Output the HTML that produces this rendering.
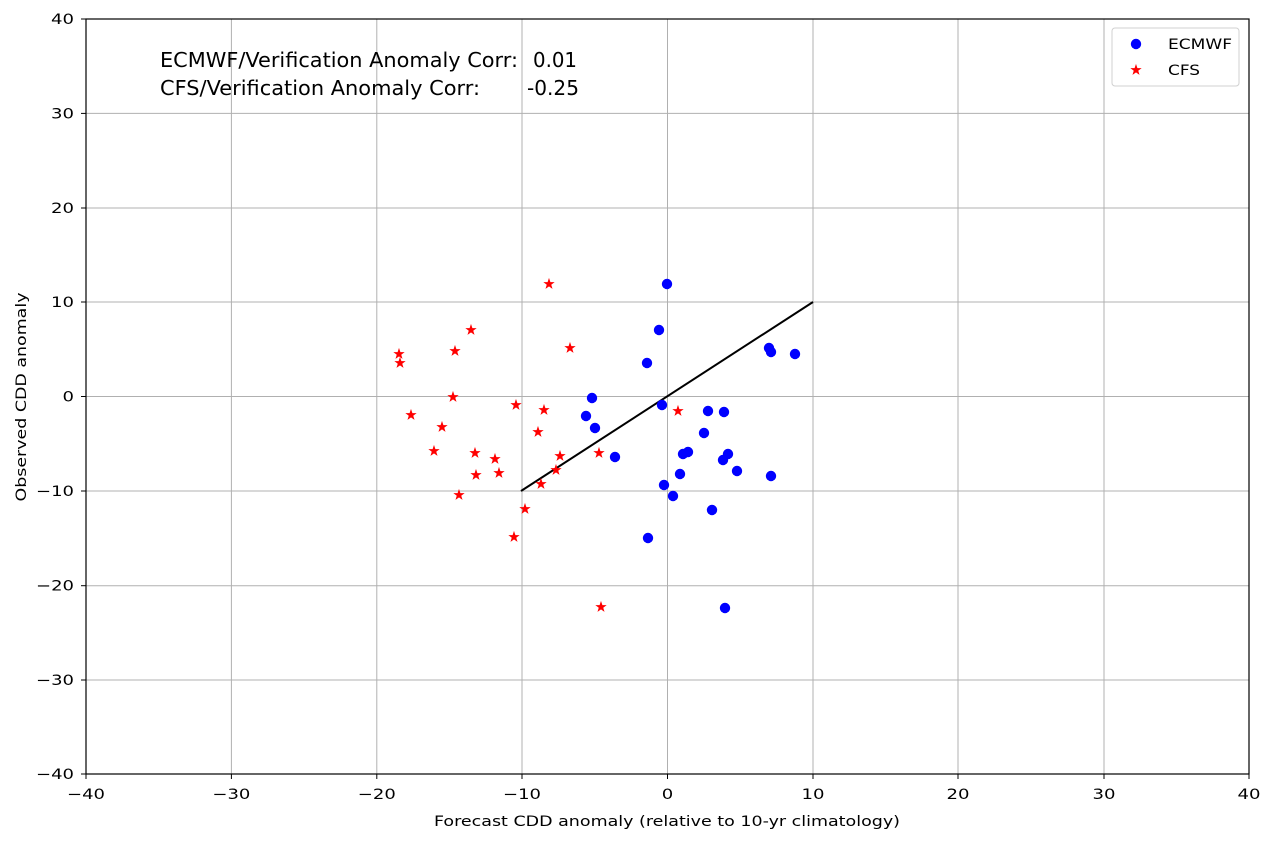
<!DOCTYPE html>
<html><head><meta charset="utf-8"><style>
html,body{margin:0;padding:0;background:#fff}
svg text{font-family:"DejaVu Sans","Liberation Sans",sans-serif}
</style></head><body>
<svg width="1272" height="842" xmlns="http://www.w3.org/2000/svg">
<defs>
<polygon id="st" points="0,-4.8 1.1,-1.5 4.5,-1.5 1.8,0.6 2.8,3.9 0,1.9 -2.8,3.9 -1.8,0.6 -4.5,-1.5 -1.1,-1.5" fill="#f00" stroke="#f00" stroke-width="0.8"/>
</defs>
<rect width="1272" height="842" fill="#fff"/>
<g stroke="#b0b0b0" stroke-width="1">
<line x1="231.4" y1="19" x2="231.4" y2="774"/><line x1="376.8" y1="19" x2="376.8" y2="774"/>
<line x1="522" y1="19" x2="522" y2="774"/><line x1="667.5" y1="19" x2="667.5" y2="774"/>
<line x1="813" y1="19" x2="813" y2="774"/><line x1="958" y1="19" x2="958" y2="774"/>
<line x1="1104" y1="19" x2="1104" y2="774"/>
<line x1="86" y1="113.4" x2="1249" y2="113.4"/><line x1="86" y1="208" x2="1249" y2="208"/>
<line x1="86" y1="302" x2="1249" y2="302"/><line x1="86" y1="396.5" x2="1249" y2="396.5"/>
<line x1="86" y1="491" x2="1249" y2="491"/><line x1="86" y1="585.7" x2="1249" y2="585.7"/>
<line x1="86" y1="680" x2="1249" y2="680"/>
</g>
<rect x="86" y="19" width="1163" height="755" fill="none" stroke="#000" stroke-width="1.2"/>
<g stroke="#000">
<line x1="86" y1="774" x2="86" y2="779"/><line x1="231.4" y1="774" x2="231.4" y2="779"/><line x1="376.8" y1="774" x2="376.8" y2="779"/><line x1="522" y1="774" x2="522" y2="779"/><line x1="667.5" y1="774" x2="667.5" y2="779"/><line x1="813" y1="774" x2="813" y2="779"/><line x1="958" y1="774" x2="958" y2="779"/><line x1="1104" y1="774" x2="1104" y2="779"/><line x1="1249" y1="774" x2="1249" y2="779"/>
<line x1="81" y1="19" x2="86" y2="19"/><line x1="81" y1="113.4" x2="86" y2="113.4"/><line x1="81" y1="208" x2="86" y2="208"/><line x1="81" y1="302" x2="86" y2="302"/><line x1="81" y1="396.5" x2="86" y2="396.5"/><line x1="81" y1="491" x2="86" y2="491"/><line x1="81" y1="585.7" x2="86" y2="585.7"/><line x1="81" y1="680" x2="86" y2="680"/><line x1="81" y1="774" x2="86" y2="774"/>
</g>
<g font-size="14.5" text-anchor="middle" fill="#000">
<text x="86" y="799" textLength="38" lengthAdjust="spacingAndGlyphs">−40</text>
<text x="231.4" y="799" textLength="38" lengthAdjust="spacingAndGlyphs">−30</text>
<text x="376.8" y="799" textLength="38" lengthAdjust="spacingAndGlyphs">−20</text>
<text x="522" y="799" textLength="38" lengthAdjust="spacingAndGlyphs">−10</text>
<text x="667.5" y="799" textLength="11.5" lengthAdjust="spacingAndGlyphs">0</text>
<text x="813" y="799" textLength="23" lengthAdjust="spacingAndGlyphs">10</text>
<text x="958" y="799" textLength="23" lengthAdjust="spacingAndGlyphs">20</text>
<text x="1104" y="799" textLength="23" lengthAdjust="spacingAndGlyphs">30</text>
<text x="1249" y="799" textLength="23" lengthAdjust="spacingAndGlyphs">40</text>
<text x="667" y="826" textLength="466" lengthAdjust="spacingAndGlyphs">Forecast CDD anomaly (relative to 10-yr climatology)</text>
</g>
<g font-size="14.5" text-anchor="end" fill="#000">
<text x="74" y="24" textLength="23" lengthAdjust="spacingAndGlyphs">40</text>
<text x="74" y="118.4" textLength="23" lengthAdjust="spacingAndGlyphs">30</text>
<text x="74" y="213" textLength="23" lengthAdjust="spacingAndGlyphs">20</text>
<text x="74" y="307" textLength="23" lengthAdjust="spacingAndGlyphs">10</text>
<text x="74" y="401.5" textLength="11.5" lengthAdjust="spacingAndGlyphs">0</text>
<text x="74" y="496" textLength="38" lengthAdjust="spacingAndGlyphs">−10</text>
<text x="74" y="590.7" textLength="38" lengthAdjust="spacingAndGlyphs">−20</text>
<text x="74" y="685" textLength="38" lengthAdjust="spacingAndGlyphs">−30</text>
<text x="74" y="779" textLength="38" lengthAdjust="spacingAndGlyphs">−40</text>
</g>
<text x="26" y="397" font-size="14.5" text-anchor="middle" transform="rotate(-90 26 397)" textLength="209" lengthAdjust="spacingAndGlyphs">Observed CDD anomaly</text>
<text x="160" y="67" font-size="20" textLength="358" lengthAdjust="spacingAndGlyphs">ECMWF/Verification Anomaly Corr:</text>
<text x="533" y="67" font-size="20" textLength="44" lengthAdjust="spacingAndGlyphs">0.01</text>
<text x="160" y="95" font-size="20" textLength="320" lengthAdjust="spacingAndGlyphs">CFS/Verification Anomaly Corr:</text>
<text x="527" y="95" font-size="20" textLength="52" lengthAdjust="spacingAndGlyphs">-0.25</text>
<line x1="521" y1="491" x2="813" y2="302" stroke="#000" stroke-width="2"/>
<g fill="#0000ff">
<circle cx="667" cy="284" r="5.2"/><circle cx="659" cy="330" r="5.2"/><circle cx="647" cy="363" r="5.2"/><circle cx="769" cy="348" r="5.2"/><circle cx="771" cy="352" r="5.2"/><circle cx="795" cy="354" r="5.2"/><circle cx="592" cy="398" r="5.2"/><circle cx="662" cy="405" r="5.2"/><circle cx="586" cy="416" r="5.2"/><circle cx="595" cy="428" r="5.2"/><circle cx="708" cy="411" r="5.2"/><circle cx="724" cy="412" r="5.2"/><circle cx="615" cy="457" r="5.2"/><circle cx="704" cy="433" r="5.2"/><circle cx="683" cy="454" r="5.2"/><circle cx="688" cy="452" r="5.2"/><circle cx="728" cy="454" r="5.2"/><circle cx="723" cy="460" r="5.2"/><circle cx="737" cy="471" r="5.2"/><circle cx="771" cy="476" r="5.2"/><circle cx="680" cy="474" r="5.2"/><circle cx="664" cy="485" r="5.2"/><circle cx="673" cy="496" r="5.2"/><circle cx="712" cy="510" r="5.2"/><circle cx="648" cy="538" r="5.2"/><circle cx="725" cy="608" r="5.2"/>
</g>
<g>
<use href="#st" x="549" y="284"/><use href="#st" x="471" y="330"/><use href="#st" x="570" y="348"/><use href="#st" x="399" y="354"/><use href="#st" x="455" y="351"/><use href="#st" x="400" y="363"/><use href="#st" x="453" y="397"/><use href="#st" x="516" y="405"/><use href="#st" x="544" y="410"/><use href="#st" x="678" y="411"/><use href="#st" x="411" y="415"/><use href="#st" x="442" y="427"/><use href="#st" x="538" y="432"/><use href="#st" x="434" y="451"/><use href="#st" x="475" y="453"/><use href="#st" x="599" y="453"/><use href="#st" x="560" y="456"/><use href="#st" x="495" y="459"/><use href="#st" x="499" y="473"/><use href="#st" x="476" y="475"/><use href="#st" x="556" y="470"/><use href="#st" x="541" y="484"/><use href="#st" x="459" y="495"/><use href="#st" x="525" y="509"/><use href="#st" x="514" y="537"/><use href="#st" x="601" y="607"/>
</g>
<rect x="1112" y="28" width="127" height="58" rx="3" fill="#fff" fill-opacity="0.8" stroke="#d0d0d0"/>
<circle cx="1136" cy="44" r="5.2" fill="#0000ff"/>
<use href="#st" x="1136" y="70"/>
<text x="1168" y="49" font-size="14.5" textLength="64" lengthAdjust="spacingAndGlyphs">ECMWF</text>
<text x="1168" y="75" font-size="14.5" textLength="32" lengthAdjust="spacingAndGlyphs">CFS</text>
</svg>
</body></html>
